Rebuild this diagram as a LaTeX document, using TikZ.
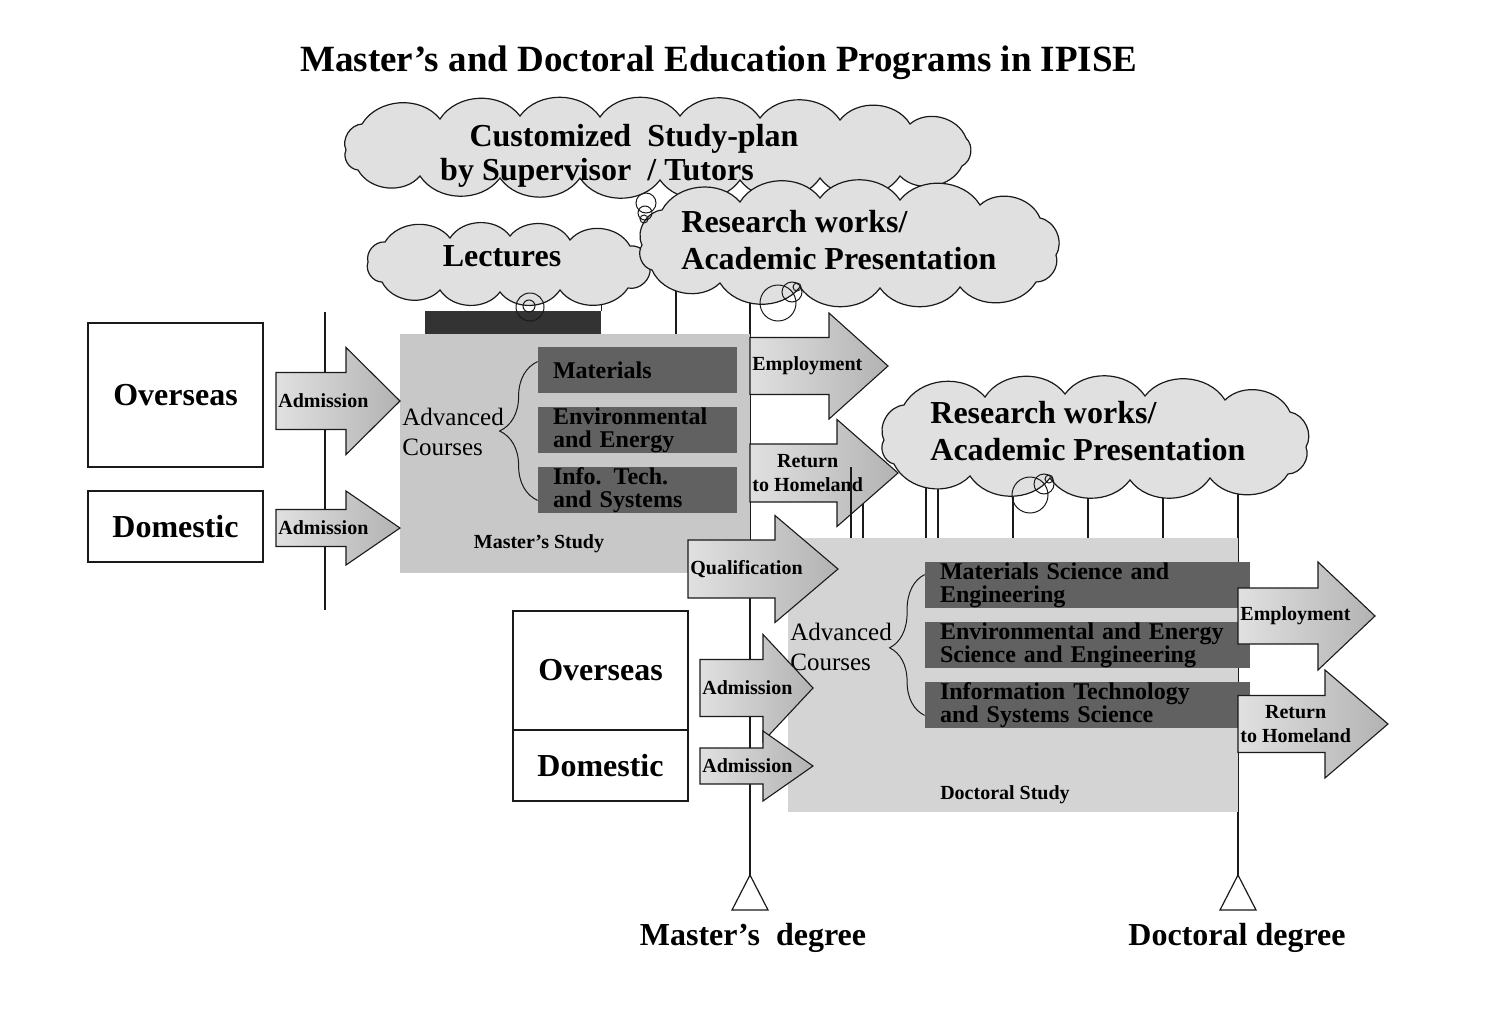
\documentclass[tikz,border=0pt]{standalone}
\usepackage{fontspec}
\setmainfont{Liberation Serif}
\usetikzlibrary{decorations.pathreplacing, backgrounds, positioning}
\definecolor{ipiseink}{HTML}{1A1A1A}
\definecolor{ipisecloud}{HTML}{E0E0E0}
\definecolor{ipisemaster}{HTML}{C8C8C8}
\definecolor{ipisedoctor}{HTML}{D4D4D4}
\definecolor{ipisecourse}{HTML}{616161}
\definecolor{ipisebar}{HTML}{333333}
\tikzset{
  titletext/.style={font=\fontsize{18.5}{22}\selectfont\bfseries, inner sep=0pt},
  cloudpath/.style={draw=ipiseink, fill=ipisecloud, line width=0.6pt},
  puff/.style={bend left=#1},
  puff/.default=55,
  cloudtext/.style={font=\fontsize{16}{18.5}\selectfont\bfseries, align=left, inner sep=0pt},
  originbox/.style={draw=ipiseink, line width=0.8pt, fill=white, minimum width=87.5pt,
    font=\fontsize{16}{18}\selectfont\bfseries},
  studybox/.style={inner sep=0pt, minimum width=#1},
  coursebox/.style={fill=ipisecourse, minimum height=23pt, inner xsep=7.5pt, inner ysep=0pt,
    align=left, font=\fontsize{12}{11.5}\selectfont\bfseries},
  studylabel/.style={font=\fontsize{10}{12}\selectfont\bfseries, inner sep=0pt},
  advtext/.style={font=\fontsize{12.5}{15}\selectfont, align=left, inner sep=0pt, anchor=west},
  coursebrace/.style={decorate, draw=ipiseink, line width=0.5pt},
  arrowbody/.style={draw=ipiseink, line width=0.55pt,
    left color=black!12, middle color=black!3, right color=black!30},
  arrowlabel/.style={anchor=west, inner sep=1pt, align=center,
    font=\fontsize{10}{12}\selectfont\bfseries},
  vline/.style={draw=ipiseink, line width=0.55pt},
  degreetri/.style={draw=ipiseink, line width=0.6pt, fill=white},
  degreetext/.style={font=\fontsize{16}{18}\selectfont\bfseries, inner sep=0pt},
  bubble/.style={draw=ipiseink, line width=0.5pt}
}
% block arrow: name, shaft left, head back, tip, mid y, shaft half, head half, text
\newcommand{\blockarrow}[8]{%
  \path[arrowbody] (#2,#5-#6) -- (#3,#5-#6) -- (#3,#5-#7) -- (#4,#5)
    -- (#3,#5+#7) -- (#3,#5+#6) -- (#2,#5+#6) -- cycle;
  \node[arrowlabel] (#1) at (#2,#5) {#8};}

\begin{document}
\begin{tikzpicture}[x=0.5pt, y=-0.5pt]
\useasboundingbox (0,0) rectangle (1511,1033);

\node[titletext] (title) at (719,63) {Master’s and Doctoral Education Programs in IPISE};

% clouds (puffs run clockwise)
\draw[cloudpath] (346,150) \foreach \x/\y in {362/124, 440/119, 520/116, 600/117, 680/116,
    760/118, 840/120, 910/124, 966/138, 962/166, 900/176, 820/178, 740/180, 660/180,
    580/178, 500/178, 420/176, 358/170, 346/150} { to[puff] (\x,\y) } -- cycle;
\draw[cloudpath] (368,262) \foreach \x/\y in {385/242, 450/238, 510/236, 570/240, 630/246,
    650/268, 628/288, 560/290, 500/292, 440/290, 382/282, 368/262} { to[puff] (\x,\y) } -- cycle;
\draw[cloudpath] (642,245) \foreach \x/\y in {662/210, 740/202, 820/198, 900/200, 980/205,
    1040/218, 1056/255, 1036/282, 960/287, 880/288, 800/287, 720/283, 652/270, 642/245}
    { to[puff] (\x,\y) } -- cycle;
\draw[cloudpath] (884,440) \foreach \x/\y in {904/405, 985/397, 1065/394, 1145/396, 1225/400,
    1290/412, 1306/447, 1288/474, 1210/478, 1130/480, 1050/478, 970/476, 894/464, 884/440}
    { to[puff] (\x,\y) } -- cycle;
\coordinate (plan) at (657,148);
\coordinate (lectures) at (508,263);
\coordinate (research1) at (848,243);
\coordinate (research2) at (1095,438);

\node[cloudtext] (plantop) at (634,139) {Customized\ \ Study-plan};
\node[cloudtext] (planbot) at (597,173) {by Supervisor\ \ / Tutors};
\node[cloudtext] (lecttext) at (502,256) {Lectures};
\node[cloudtext, anchor=west] (res1text) at (681,240) {Research works/\\Academic Presentation};
\node[cloudtext, anchor=west] (res2text) at (930,431) {Research works/\\Academic Presentation};

% applicants
\node[originbox, minimum height=72pt] (mover) at (175.5,395) {Overseas};
\node[originbox, minimum height=35.5pt] (mdom) at (175.5,526.5) {Domestic};
\node[originbox, minimum height=59.5pt] (dover) at (600.5,670.5) {Overseas};
\node[originbox, minimum height=35.5pt] (ddom) at (600.5,765.5) {Domestic};

% study blocks
\node[studybox=175pt, fill=ipisemaster, minimum height=119.5pt] (mstudy) at (575,453.5) {};
\node[studybox=88pt, fill=ipisebar, minimum height=11.5pt] (lecbar) at (513,322.5) {};
\node[studybox=225pt, fill=ipisedoctor, minimum height=137pt] (dstudy) at (1013,675) {};

\node[coursebox, text width=84.5pt] (mmat) at (637.5,370) {Materials};
\node[coursebox, text width=84.5pt] (menv) at (637.5,430) {Environmental\\and Energy};
\node[coursebox, text width=84.5pt] (minfo) at (637.5,490) {Info. Tech.\\and Systems};

\node[coursebox, text width=147.5pt] (dmat) at (1087.5,585) {Materials Science and\\Engineering};
\node[coursebox, text width=147.5pt] (denv) at (1087.5,645) {Environmental and Energy\\Science and Engineering};
\node[coursebox, text width=147.5pt] (dinfo) at (1087.5,705) {Information Technology\\and Systems Science};

\node[advtext] (madv) at (402,432) {Advanced\\Courses};
\node[advtext] (dadv) at (790,647) {Advanced\\Courses};
\draw[coursebrace, decoration={brace, amplitude=19pt}]
  ([yshift=6.5pt]minfo.south west) -- ([yshift=-7.5pt]mmat.north west);
\draw[coursebrace, decoration={brace, amplitude=17.5pt, aspect=0.48}]
  ([yshift=6.5pt]dinfo.south west) -- ([yshift=-6.5pt]dmat.north west);

\node[studylabel] (mlabel) at (539,544) {Master’s Study};
\node[studylabel] (dlabel) at (1005,795) {Doctoral Study};

% degrees
\coordinate (mdeg) at (750,875);
\coordinate (ddeg) at (1238,875);
\coordinate (madmtop) at (325,312);
\coordinate (madmfoot) at (325,610);
\draw[degreetri] (mdeg) -- ++(-18,35) -- ++(36,0) -- cycle;
\draw[degreetri] (ddeg) -- ++(-18,35) -- ++(36,0) -- cycle;
\node[degreetext] (mdegtext) at (753,938) {Master’s\ \ degree};
\node[degreetext] (ddegtext) at (1237,938) {Doctoral degree};

% flows
\blockarrow{madmover}{276}{346}{400}{401}{28.5}{53.5}{Admission}
\blockarrow{madmdom}{276}{346}{400}{528}{18.5}{37}{Admission}
\blockarrow{memploy}{750}{829}{888}{366}{28.5}{53}{Employment}
\blockarrow{mreturn}{750}{837}{898}{473}{29}{53.5}{Return\\to Homeland}
\blockarrow{qualify}{688}{775}{838}{569}{29}{53.5}{Qualification}
\blockarrow{dadmover}{700}{763}{813}{688}{28.5}{53.5}{Admission}
\blockarrow{dadmdom}{700}{763}{813}{766}{18}{35}{Admission}
\blockarrow{demploy}{1238}{1318}{1375}{616}{28}{54}{Employment}
\blockarrow{dreturn}{1238}{1325}{1388}{724}{28.5}{54}{Return\\to Homeland}
\draw[vline] (851,467) -- (dstudy.north -| 851,0);

% thought bubbles
\foreach \cx/\cy/\r in {646/203/5pt, 645/213/3.5pt, 644/219/2pt,
    530/307/7pt, 529/306/3pt, 778/303/9pt, 792/292/5pt, 797/287/2pt,
    1030/495/9pt, 1044/484/5pt, 1049/479/2pt}
  \draw[bubble] (\cx,\cy) circle[radius=\r];

\begin{scope}[on background layer]
  \draw[vline] (madmtop) -- (madmfoot);
  \draw[vline] (lectures -| lecbar.north east) -- (lecbar.north east);
  \draw[vline] (research1 -| 676,0) -- (mstudy.north -| 676,0);
  \draw[vline] (research1 -| mdeg) -- (mdeg);
  \draw[vline] (research2 -| ddeg) -- (ddeg);
  \foreach \x in {926,938,1013,1088,1163}
    \draw[vline] (research2 -| \x,0) -- (dstudy.north -| \x,0);
  \draw[vline] (863,467) -- (dstudy.north -| 863,0);
\end{scope}
\end{tikzpicture}
\end{document}
